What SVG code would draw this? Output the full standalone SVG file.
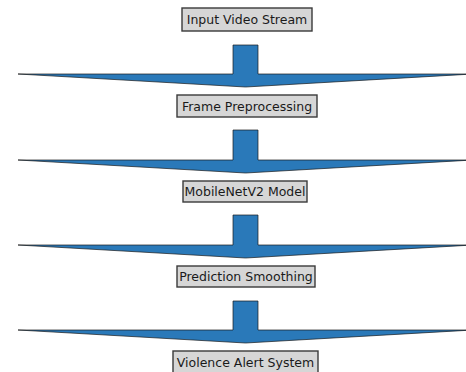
<svg xmlns="http://www.w3.org/2000/svg" width="466" height="372" viewBox="0 0 466 372">
<style>
.box{fill:#d6d6d6;stroke:#3a3a3a;stroke-width:1.4}
.lbl{font-family:"DejaVu Sans",sans-serif;font-size:12.5px;fill:#1a1a1a;text-anchor:middle;dominant-baseline:central}
.arr{fill:#2a79b9;stroke:#1a1a1a;stroke-width:0.7;stroke-linejoin:miter}
</style>
<rect width="466" height="372" fill="#ffffff"/>
<g id="connectors">
<path class="arr" d="M233,45 H258 V74 H473 L245.5,87 L18,74 H233 Z"/>
<path class="arr" d="M233,130 H258 V160 H473 L245.5,173 L18,160 H233 Z"/>
<path class="arr" d="M233,215 H258 V245 H473 L245.5,258 L18,245 H233 Z"/>
<path class="arr" d="M233,301 H258 V330 H473 L245.5,343 L18,330 H233 Z"/>
</g>
<g id="node1"><rect class="box" x="182" y="8" width="130" height="23"/><text class="lbl" x="247" y="19.5">Input Video Stream</text></g>
<g id="node2"><rect class="box" x="177" y="95" width="140" height="22"/><text class="lbl" x="247" y="106">Frame Preprocessing</text></g>
<g id="node3"><rect class="box" x="183" y="181" width="124" height="21"/><text class="lbl" x="245" y="191.5">MobileNetV2 Model</text></g>
<g id="node4"><rect class="box" x="177" y="266" width="138" height="21"/><text class="lbl" x="246" y="276.5">Prediction Smoothing</text></g>
<g id="node5"><rect class="box" x="173" y="351" width="145" height="22"/><text class="lbl" x="245.5" y="362">Violence Alert System</text></g>
</svg>
